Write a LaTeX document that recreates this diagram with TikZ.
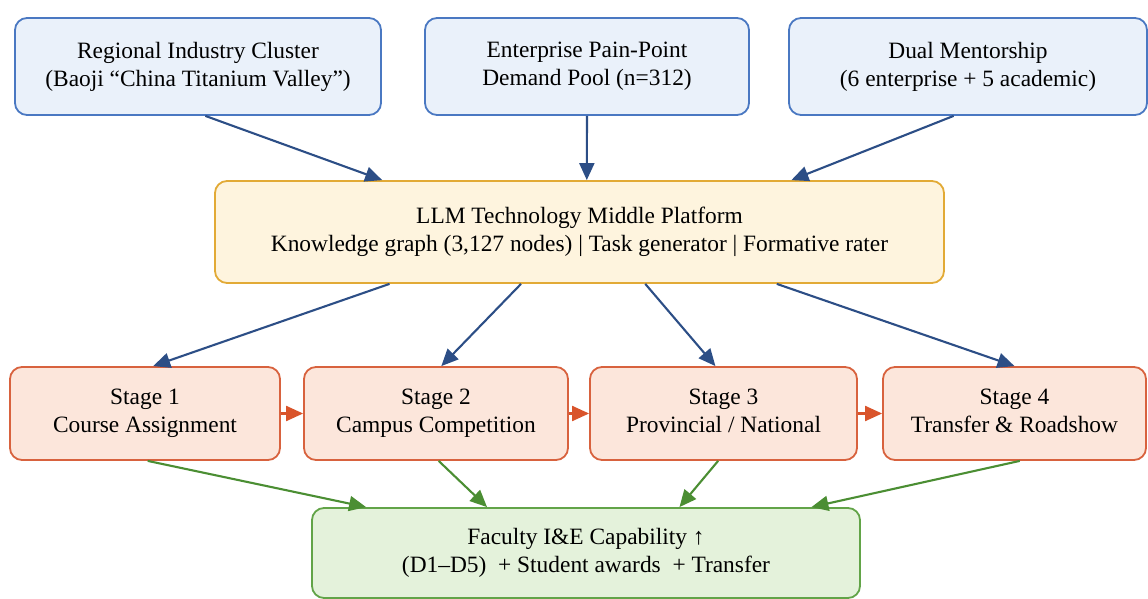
\documentclass[tikz,border=0pt]{standalone}
\usepackage{fontspec}
\setmainfont{Liberation Serif}
\usetikzlibrary{arrows.meta,calc}

\definecolor{srcfill}{HTML}{EAF1FA}
\definecolor{srcdraw}{HTML}{4A78C2}
\definecolor{hubfill}{HTML}{FEF4DE}
\definecolor{hubdraw}{HTML}{E2AA36}
\definecolor{stgfill}{HTML}{FCE6DB}
\definecolor{stgdraw}{HTML}{D8623E}
\definecolor{outfill}{HTML}{E4F2DB}
\definecolor{outdraw}{HTML}{62A448}
\definecolor{bluearrow}{HTML}{2C4E86}
\definecolor{greenarrow}{HTML}{4B8E33}
\definecolor{orangearrow}{HTML}{D9542B}

% fixed first-line height and last-line depth, so every label sits alike
\newcommand{\toprule}{\rule{0pt}{8.5pt}}
\newcommand{\lastrule}{\rule[-2.6pt]{0pt}{2.6pt}}

\tikzset{
  box/.style={rounded corners=6pt, line width=0.9pt, align=center,
    inner sep=0pt, font=\fontsize{11.7}{14}\selectfont,
    execute at begin node=\toprule, execute at end node=\lastrule},
  srcbox/.style={box, fill=srcfill, draw=srcdraw},
  hubbox/.style={box, fill=hubfill, draw=hubdraw},
  stagebox/.style={box, fill=stgfill, draw=stgdraw},
  outbox/.style={box, fill=outfill, draw=outdraw},
  link/.style={line width=1.05pt, -{Triangle[length=8.5pt,width=7.5pt]}},
  feed/.style={link, draw=bluearrow, fill=bluearrow},
  flow/.style={link, draw=orangearrow, fill=orangearrow},
  yield/.style={link, draw=greenarrow, fill=greenarrow}
}

% point at fraction #2 along the bottom / top side of node #1
\newcommand{\lowside}[2]{($(#1.south west)!#2!(#1.south east)$)}
\newcommand{\highside}[2]{($(#1.north west)!#2!(#1.north east)$)}

\begin{document}
\begin{tikzpicture}[x=0.5pt,y=-0.5pt]
\useasboundingbox (0,0) rectangle (1148,599);

% sources
\node[srcbox, minimum width=183pt, minimum height=48.5pt] (cluster) at (198,66.5)
  {Regional Industry Cluster\\(Baoji “China Titanium Valley”)};
\node[srcbox, minimum width=162pt, minimum height=48.5pt] (demand) at (587,66.5)
  {Enterprise Pain-Point\\Demand Pool (n=312)};
\node[srcbox, minimum width=179pt, minimum height=48.5pt] (mentor) at (968,66.5)
  {Dual Mentorship\\(6 enterprise + 5 academic)};

% platform
\node[hubbox, minimum width=364.5pt, minimum height=51pt] (platform) at (579.5,232)
  {LLM Technology Middle Platform\\Knowledge graph (3,127 nodes) | Task generator | Formative rater};

% stages
\node[stagebox, minimum width=135pt, minimum height=46.5pt] (s1) at (145,413.5)
  {Stage 1\\Course Assignment};
\node[stagebox, minimum width=132pt, minimum height=46.5pt] (s2) at (436,413.5)
  {Stage 2\\Campus Competition};
\node[stagebox, minimum width=133.5pt, minimum height=46.5pt] (s3) at (723.5,413.5)
  {Stage 3\\Provincial / National};
\node[stagebox, minimum width=131.5pt, minimum height=46.5pt] (s4) at (1014.5,413.5)
  {Stage 4\\Transfer \& Roadshow};

% outcome
\node[outbox, minimum width=274pt, minimum height=45pt] (outcome) at (586,553)
  {Faculty I\&E Capability ↑\\(D1–D5) ~+ Student awards ~+ Transfer};

% inputs into the platform
\draw[feed] \lowside{cluster}{0.52} -- \highside{platform}{0.23};
\draw[feed] \lowside{demand}{0.5} -- \highside{platform}{0.51};
\draw[feed] \lowside{mentor}{0.46} -- \highside{platform}{0.79};

% platform to stages
\draw[feed] \lowside{platform}{0.24} -- \highside{s1}{0.53};
\draw[feed] \lowside{platform}{0.42} -- \highside{s2}{0.52};
\draw[feed] \lowside{platform}{0.59} -- \highside{s3}{0.47};
\draw[feed] \lowside{platform}{0.77} -- \highside{s4}{0.50};

% stage progression
\draw[flow] (s1) -- (s2);
\draw[flow] (s2) -- (s3);
\draw[flow] (s3) -- (s4);

% stages to outcome
\draw[yield] \lowside{s1}{0.51} -- \highside{outcome}{0.10};
\draw[yield] \lowside{s2}{0.51} -- \highside{outcome}{0.32};
\draw[yield] \lowside{s3}{0.48} -- \highside{outcome}{0.67};
\draw[yield] \lowside{s4}{0.52} -- \highside{outcome}{0.91};
\end{tikzpicture}
\end{document}
